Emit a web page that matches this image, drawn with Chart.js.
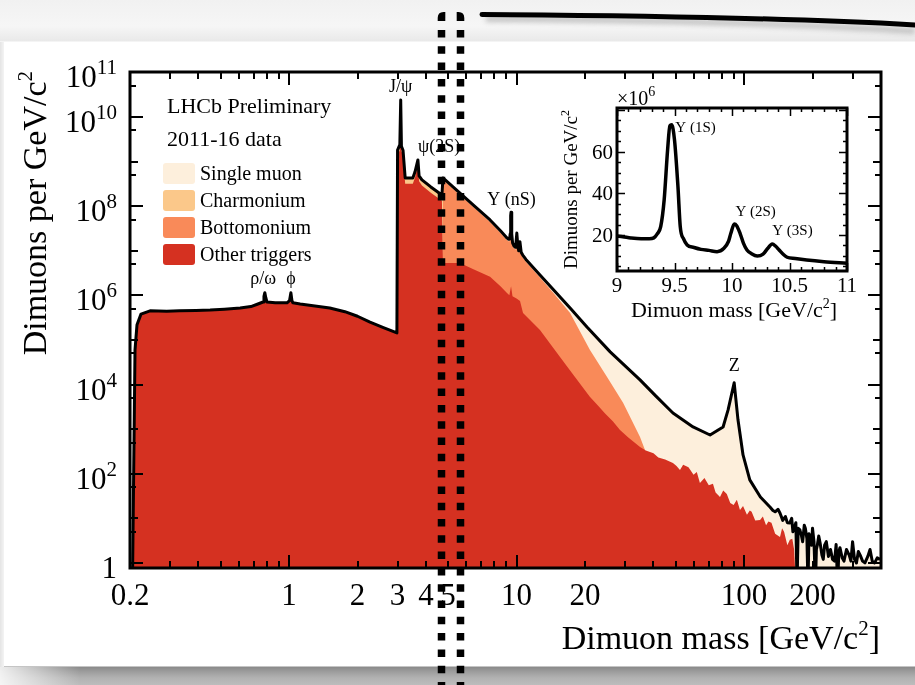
<!DOCTYPE html>
<html>
<head>
<meta charset="utf-8">
<title>LHCb dimuon mass spectrum</title>
<script src="https://cdn.jsdelivr.net/npm/chart.js@4.4.0/dist/chart.umd.min.js"></script>
<style>
    html {
        margin: 0; padding: 0; width: 915px; height: 685px; overflow: hidden;
        background: linear-gradient(to bottom,
            #f1f1f1 0px, #f6f6f6 26px, #e9e9e9 41px,
            #ffffff 42px, #ffffff 666px,
            #8a8a8a 667px, #9e9e9e 672px, #b2b2b2 678px, #bcbcbc 685px) no-repeat;
        background-size: 915px 685px;
    }
    body { margin: 0; padding: 0; width: 915px; height: 685px; position: relative; overflow: hidden; background: transparent; }
    #edge {
        position: absolute; left: 0; top: 42px; width: 4px; height: 625px;
        background: linear-gradient(to right, #e4e4e4, #f4f4f4);
    }
    #floorFade {
        position: absolute; left: 0; top: 667px; width: 80px; height: 18px;
        background: linear-gradient(to right, rgba(255,255,255,0.85), rgba(255,255,255,0));
    }
    canvas { position: absolute; }
    #main { left: 0; top: 0; }
    #inset { left: 540px; top: 80px; }
    #marks { position: absolute; left: 0; top: 0; }
</style>
</head>
<body>
<div id="edge"></div>
<div id="floorFade"></div>
<canvas id="main" width="915" height="685"></canvas>
<canvas id="inset" width="340" height="250"></canvas>
<svg id="marks" width="915" height="685" viewBox="0 0 915 685">
    <defs>
        <filter id="soft" x="-5%" y="-200%" width="110%" height="500%">
            <feGaussianBlur stdDeviation="2.5"/>
        </filter>
    </defs>
    <path d="M486 19 C 640 20, 800 24, 915 31" stroke="#888" stroke-width="6" fill="none" opacity="0.45" filter="url(#soft)"/>
    <path d="M482 14.5 C 640 15.5, 800 18.5, 915 25" stroke="#000" stroke-width="5" fill="none" stroke-linecap="round"/>
    <line x1="441.5" y1="30" x2="441.5" y2="700" stroke="#000" stroke-width="7.5" stroke-dasharray="7.5 8.8"/>
    <line x1="460.5" y1="30" x2="460.5" y2="700" stroke="#000" stroke-width="7.5" stroke-dasharray="7.5 8.8"/>
    <path d="M437.7 21 V18 Q437.7 12 443.5 12 H445.3 V21 Z" fill="#000"/>
    <path d="M464.3 21 V18 Q464.3 12 458.5 12 H456.7 V21 Z" fill="#000"/>
</svg>

<script>
// Dimuon mass spectrum, LHCb 2011-16
const FONT = "'Liberation Serif', 'Times New Roman', serif";

// total spectrum: black outline and top of the "Single muon" stack
const totalMass = [
    0.205, 0.2104, 0.2147, 0.2235, 0.245, 0.29, 0.33, 0.39, 0.45, 0.52,
    0.61, 0.68, 0.73, 0.769, 0.776, 0.783, 0.79, 0.80, 0.87, 0.98,
    1.005, 1.019, 1.03, 1.04, 1.12, 1.3, 1.51, 1.76, 2.0, 2.27,
    2.6, 2.98, 3.0, 3.07, 3.097, 3.12, 3.17, 3.24, 3.5, 3.58,
    3.686, 3.73, 3.84, 4.2, 4.70, 4.75, 5.5, 6.5, 7.65, 8.5,
    9.08, 9.21, 9.32, 9.38, 9.41, 9.44, 9.46, 9.50, 9.53, 9.55,
    9.61, 9.73, 9.87, 9.93, 10.03, 10.13, 10.22, 10.35, 10.48, 10.65,
    11.0, 12.68, 14.5, 17.2, 20.4, 25.8, 34.9, 41, 48.7, 59.7,
    70.9, 80.9, 85.1, 90.5, 94.1, 99, 106, 118, 130, 134,
    137, 141, 144, 148, 152, 155, 159, 162, 164, 167,
    169, 171, 173, 176, 179, 181, 184, 186, 189, 191,
    193, 195, 198, 200, 203, 206, 208, 210, 213, 216,
    220, 223, 226, 230, 235, 240, 245, 250, 254, 258,
    261, 264, 270, 275, 282, 290, 295, 300, 306, 312,
    318, 324, 332, 340, 350, 358, 366, 375, 385, 396
];
const totalCounts = [
    0.3, 6.0e4, 2.2e5, 3.8e5, 4.5e5, 4.4e5, 4.5e5, 4.6e5, 4.7e5, 4.9e5,
    5.2e5, 5.6e5, 6.4e5, 7.1e5, 9.5e5, 1.15e6, 9.0e5, 7.1e5, 6.8e5, 6.8e5,
    7.6e5, 1.15e6, 7.6e5, 6.8e5, 6.4e5, 5.8e5, 5.2e5, 4.3e5, 3.4e5, 2.5e5,
    1.9e5, 1.44e5, 1.8e9, 2.4e9, 2.4e10, 2.2e9, 1.8e9, 4.3e8, 4.3e8, 5.9e8,
    1.09e9, 4.8e8, 3.9e8, 2.7e8, 1.78e8, 4.3e8, 2.2e8, 1.03e8, 4.9e7, 2.8e7,
    1.94e7, 1.82e7, 1.82e7, 2.4e7, 3.7e7, 6.1e7, 7.3e7, 6.6e7, 4.3e7, 2.4e7,
    1.5e7, 1.3e7, 1.2e7, 1.36e7, 2.5e7, 1.3e7, 1.0e7, 1.6e7, 9.3e6, 8.0e6,
    6.4e6, 2.87e6, 1.35e6, 5.2e5, 1.95e5, 5.4e4, 1.27e4, 5.5e3, 2.3e3, 1.12e3,
    740, 1.12e3, 2.7e3, 1.1e4, 1.6e3, 264, 73, 30, 18, 15,
    14, 16, 13, 9, 11, 8, 7.9, 10, 5, 6.5,
    8, 0.3, 6, 5.5, 4, 3, 7, 6, 3.5, 0.3,
    4.5, 3.8, 2.5, 6, 3, 0.3, 2, 2.5, 4, 2.8,
    1.5, 1.2, 2.5, 3, 1.4, 2, 1.2, 1.1, 2.6, 0.3,
    1.8, 2.2, 1.3, 1.1, 2, 1.5, 1.1, 3, 1.2, 1.0,
    1.8, 1.5, 1.1, 1.0, 1.4, 2.0, 1.1, 1.0, 1.3, 1.2
];

// "Other triggers"
const otherMass = [
    0.205, 0.2104, 0.2147, 0.2235, 0.245, 0.29, 0.33, 0.39, 0.45, 0.52,
    0.61, 0.68, 0.73, 0.769, 0.776, 0.783, 0.79, 0.80, 0.87, 0.98,
    1.005, 1.019, 1.03, 1.04, 1.12, 1.3, 1.51, 1.76, 2.0, 2.27,
    2.6, 2.98, 3.0, 3.07, 3.097, 3.12, 3.17, 3.24, 3.5, 3.58,
    3.686, 3.73, 3.84, 4.2, 4.70, 4.75, 5.64, 6.5, 7.65, 8.5,
    9.08, 9.3, 9.46, 9.6, 10.0, 10.36, 10.68, 12.68, 15.5, 18,
    21, 23, 24.5, 26.5, 28.5, 31, 34.9, 37, 40, 42,
    45, 48.7, 50.5, 52.3, 54, 57, 60, 62, 64, 67,
    70, 73, 75, 78.4, 81, 84, 87, 90, 93, 96,
    99, 103, 106, 108, 112, 117.6, 121, 125, 128, 132,
    137, 143.9, 147, 150, 155, 159, 163, 166, 169.3
];
const otherCounts = [
    0.3, 6.0e4, 2.2e5, 3.8e5, 4.5e5, 4.4e5, 4.5e5, 4.6e5, 4.7e5, 4.9e5,
    5.2e5, 5.6e5, 6.4e5, 7.1e5, 9.5e5, 1.15e6, 9.0e5, 7.1e5, 6.8e5, 6.8e5,
    7.6e5, 1.15e6, 7.6e5, 6.8e5, 6.4e5, 5.8e5, 5.2e5, 4.3e5, 3.4e5, 2.5e5,
    1.9e5, 1.44e5, 1.4e9, 1.8e9, 1.8e10, 1.7e9, 1.4e9, 3.2e8, 3.2e8, 4.4e8,
    8.2e8, 3.6e8, 2.9e8, 2.0e8, 1.33e8, 5.3e6, 5.3e6, 3.8e6, 2.6e6, 1.6e6,
    1.13e6, 1.0e6, 1.6e6, 9.5e5, 8.5e5, 7.5e5, 4.0e5, 1.68e5, 4.2e4, 1.52e4,
    5.3e3, 3.2e3, 2.25e3, 1.5e3, 960, 650, 400, 330, 290, 230,
    210, 175, 150, 122, 160, 140, 95, 110, 62, 80,
    55, 60, 38, 30, 42, 35, 22, 20, 26, 15.4,
    19, 12, 15, 14, 9, 9.2, 11, 7, 8.5, 8,
    4.5, 3.8, 6, 5, 2.5, 3.3, 3.5, 2, 0.3
];

// cumulative "Bottomonium" (stack top)
const bottomMass = [
    4.75, 5.5, 6.5, 7.65, 8.5, 9.08, 9.21, 9.32, 9.38, 9.41,
    9.44, 9.46, 9.50, 9.53, 9.55, 9.61, 9.73, 9.87, 9.93, 10.03,
    10.13, 10.22, 10.35, 10.48, 10.65, 11.0, 12.68, 14.5, 17.2, 21.0,
    25.0, 29.4, 34.9, 36.7
];
const bottomCounts = [
    3.9e8, 2.0e8, 9.3e7, 4.4e7, 2.5e7, 1.75e7, 1.64e7, 1.64e7, 2.2e7, 3.3e7,
    5.5e7, 6.6e7, 5.9e7, 3.9e7, 2.2e7, 1.35e7, 1.17e7, 1.08e7, 1.22e7, 2.25e7,
    1.17e7, 9.0e6, 1.44e7, 8.4e6, 7.2e6, 5.7e6, 2.5e6, 1.15e6, 4.0e5, 6.0e4,
    1.48e4, 3.9e3, 670, 340
];

// cumulative "Charmonium" (stack top)
const charmMass = [2.98, 3.0, 3.07, 3.097, 3.12, 3.17, 3.24, 3.5, 3.58, 3.686, 3.73, 3.84, 4.2, 4.70, 4.75];
const charmCounts = [1.44e5, 1.8e9, 2.4e9, 2.4e10, 2.2e9, 1.8e9, 4.3e8, 4.3e8, 5.9e8, 1.09e9, 4.8e8, 3.9e8, 2.7e8, 1.78e8, 1.78e8];

const legendLabels = ['Single muon', 'Charmonium', 'Bottomonium', 'Other triggers'];
const legendColors = ['#fdefdc', '#fbc88a', '#f98a59', '#d53121'];

const xTickLabels = [0.2, 1, 2, 3, 4, 5, 10, 20, 100, 200];
const yTickPowers = [0, 2, 4, 6, 8, 10, 11];

// resonance labels: text, mass, counts at the label baseline
const peakText = ['ρ/ω', 'ϕ', 'J/ψ', 'ψ(2S)', 'Υ (nS)', 'Z'];
const peakMass = [0.77, 1.02, 3.097, 3.686, 9.5, 90.5];
const peakCounts = [1.8e6, 1.8e6, 3.6e10, 1.6e9, 1.05e8, 2.0e4];

// Upsilon inset (counts in units of 10^6)
const insetMass = [
    9.0, 9.05, 9.12, 9.21, 9.28, 9.32, 9.35, 9.38, 9.41, 9.44,
    9.46, 9.475, 9.50, 9.53, 9.55, 9.58, 9.61, 9.67, 9.73, 9.80,
    9.87, 9.93, 9.97, 9.99, 10.02, 10.04, 10.07, 10.10, 10.13, 10.17,
    10.22, 10.27, 10.31, 10.35, 10.38, 10.41, 10.45, 10.48, 10.55, 10.65,
    10.8, 11.0
];
const insetCounts = [
    19.5, 19.2, 18.6, 18.2, 18.2, 18.6, 20.5, 24, 36.8, 60.9,
    72.5, 72.9, 65.7, 43.2, 24, 18, 15.2, 14, 13.1, 12.6,
    12, 13.6, 17, 20.8, 25.3, 24.5, 20.8, 16, 12.8, 11,
    9.9, 10.8, 13.5, 15.7, 14.6, 12.8, 10.5, 9.3, 8.7, 8.0,
    7.2, 6.4
];
const insetXTicks = [9, 9.5, 10, 10.5, 11];
const insetYTicks = [20, 40, 60];
const insetPeakText = ['Υ (1S)', 'Υ (2S)', 'Υ (3S)'];
const insetPeakMass = [9.507, 10.03, 10.35];
const insetPeakCounts = [69.5, 29.1, 20];

function points(ms, vs) {
    return ms.map((m, i) => ({ x: m, y: vs[i] }));
}

function richText(ctx, segs, x, y, align) {
    let w = 0;
    segs.forEach(s => {
        ctx.font = `${s.size}px ${FONT}`;
        s.w = ctx.measureText(s.t).width;
        w += s.w;
    });
    let cx = align === 'right' ? x - w : align === 'center' ? x - w / 2 : x;
    ctx.textAlign = 'left';
    ctx.textBaseline = 'alphabetic';
    segs.forEach(s => {
        ctx.font = `${s.size}px ${FONT}`;
        ctx.fillText(s.t, cx, y - (s.rise || 0));
        cx += s.w;
    });
}

// ROOT-style frame: inward ticks on all four sides, labels, titles, legend
const mainFrame = {
    id: 'mainFrame',
    afterDraw(chart) {
        const { ctx, chartArea: a } = chart;
        const xs = chart.scales.x, ys = chart.scales.y;
        ctx.save();
        ctx.strokeStyle = '#000';
        ctx.fillStyle = '#000';
        ctx.lineWidth = 2;
        ctx.beginPath();
        for (let d = -1; d <= 2; d++) {
            for (let k = 1; k <= 9; k++) {
                const v = k * Math.pow(10, d);
                if (v < 0.199 || v > 400) continue;
                const px = Math.round(xs.getPixelForValue(v));
                const len = k === 1 ? 13 : 7;
                ctx.moveTo(px, a.bottom); ctx.lineTo(px, a.bottom - len);
                ctx.moveTo(px, a.top); ctx.lineTo(px, a.top + len);
            }
        }
        for (let p = 0; p <= 11; p++) {
            const py = Math.round(ys.getPixelForValue(Math.pow(10, p)));
            const len = p % 2 === 0 ? 13 : 8;
            ctx.moveTo(a.left, py); ctx.lineTo(a.left + len, py);
            ctx.moveTo(a.right, py); ctx.lineTo(a.right - len, py);
            if (p < 11) {
                const q = Math.round(ys.getPixelForValue(5 * Math.pow(10, p)));
                ctx.moveTo(a.left, q); ctx.lineTo(a.left + 6, q);
                ctx.moveTo(a.right, q); ctx.lineTo(a.right - 6, q);
            }
        }
        ctx.stroke();
        ctx.lineWidth = 3;
        ctx.strokeRect(a.left, a.top, a.right - a.left, a.bottom - a.top);

        // tick labels
        xTickLabels.forEach(v => {
            richText(ctx, [{ t: String(v), size: 31 }], xs.getPixelForValue(v), 605, 'center');
        });
        yTickPowers.forEach(p => {
            const py = ys.getPixelForValue(Math.pow(10, p));
            const segs = p === 0 ? [{ t: '1', size: 31 }]
                : [{ t: '10', size: 31 }, { t: String(p), size: 21, rise: 13 }];
            richText(ctx, segs, 117, py + 15, 'right');
        });

        // axis titles
        richText(ctx, [{ t: 'Dimuon mass [GeV/c', size: 34 }, { t: '2', size: 21, rise: 14 }, { t: ']', size: 34 }], 880, 649, 'right');
        ctx.save();
        ctx.translate(46, 71);
        ctx.rotate(-Math.PI / 2);
        richText(ctx, [{ t: 'Dimuons per GeV/c', size: 34 }, { t: '2', size: 21, rise: 14 }], 0, 0, 'right');
        ctx.restore();

        // caption and legend
        richText(ctx, [{ t: 'LHCb Preliminary', size: 22 }], 167, 113, 'left');
        richText(ctx, [{ t: '2011-16 data', size: 22 }], 167, 146, 'left');
        legendLabels.forEach((label, i) => {
            const top = 163 + i * 27;
            ctx.fillStyle = legendColors[i];
            ctx.beginPath();
            ctx.roundRect(163, top, 32, 21, 3);
            ctx.fill();
            ctx.fillStyle = '#000';
            richText(ctx, [{ t: label, size: 20 }], 200, top + 17, 'left');
        });

        // resonance labels
        peakText.forEach((t, i) => {
            const px = xs.getPixelForValue(peakMass[i]);
            const py = ys.getPixelForValue(peakCounts[i]);
            richText(ctx, [{ t, size: 18 }], px, py, t === 'ψ(2S)' ? 'left' : 'center');
        });
        ctx.restore();
    }
};

new Chart(document.getElementById('main'), {
    type: 'line',
    data: {
        datasets: [
            {
                label: 'Total',
                data: points(totalMass, totalCounts),
                borderColor: '#000',
                borderWidth: 3,
                borderJoinStyle: 'round',
                fill: false
            },
            {
                label: legendLabels[3],
                data: points(otherMass, otherCounts),
                borderWidth: 0,
                backgroundColor: legendColors[3],
                fill: 'start'
            },
            {
                label: legendLabels[2],
                data: points(bottomMass, bottomCounts),
                borderWidth: 0,
                backgroundColor: legendColors[2],
                fill: 'start'
            },
            {
                label: legendLabels[1],
                data: points(charmMass, charmCounts),
                borderWidth: 0,
                backgroundColor: legendColors[1],
                fill: 'start'
            },
            {
                label: legendLabels[0],
                data: points(totalMass, totalCounts),
                borderWidth: 0,
                backgroundColor: legendColors[0],
                fill: 'start'
            }
        ]
    },
    options: {
        responsive: false,
        animation: false,
        events: [],
        layout: { padding: { left: 130, right: 34, top: 72, bottom: 117 } },
        elements: {
            point: { radius: 0 },
            line: { tension: 0 }
        },
        plugins: {
            legend: { display: false },
            tooltip: { enabled: false }
        },
        scales: {
            x: { type: 'logarithmic', min: 0.2, max: 400, display: false },
            y: { type: 'logarithmic', min: 0.77, max: 1.02e11, display: false }
        }
    },
    plugins: [mainFrame]
});

const insetFrame = {
    id: 'insetFrame',
    afterDraw(chart) {
        const { ctx, chartArea: a } = chart;
        const xs = chart.scales.x, ys = chart.scales.y;
        ctx.save();
        ctx.strokeStyle = '#000';
        ctx.fillStyle = '#000';
        ctx.lineWidth = 1.5;
        ctx.beginPath();
        for (let k = 0; k <= 20; k++) {
            const px = Math.round(xs.getPixelForValue(9 + k / 10)) + 0.5;
            const len = k % 5 === 0 ? 8 : 4;
            ctx.moveTo(px, a.bottom); ctx.lineTo(px, a.bottom - len);
            ctx.moveTo(px, a.top); ctx.lineTo(px, a.top + len);
        }
        for (let v = 5; v <= 80; v += 5) {
            const py = Math.round(ys.getPixelForValue(v)) + 0.5;
            const len = v % 20 === 0 ? 8 : 4;
            ctx.moveTo(a.left, py); ctx.lineTo(a.left + len, py);
            ctx.moveTo(a.right, py); ctx.lineTo(a.right - len, py);
        }
        ctx.stroke();
        ctx.lineWidth = 3;
        ctx.strokeRect(a.left, a.top, a.right - a.left, a.bottom - a.top);

        insetXTicks.forEach(v => {
            richText(ctx, [{ t: String(v), size: 21 }], xs.getPixelForValue(v), a.bottom + 21, 'center');
        });
        insetYTicks.forEach(v => {
            richText(ctx, [{ t: String(v), size: 21 }], a.left - 4, ys.getPixelForValue(v) + 7, 'right');
        });
        richText(ctx, [{ t: '×10', size: 20 }, { t: '6', size: 14, rise: 9 }], a.left, a.top - 3, 'left');
        richText(ctx, [{ t: 'Dimuon mass [GeV/c', size: 22 }, { t: '2', size: 14, rise: 9 }, { t: ']', size: 22 }],
            (a.left + a.right) / 2 + 2, a.bottom + 46, 'center');
        ctx.save();
        ctx.translate(a.left - 40, a.top + 2);
        ctx.rotate(-Math.PI / 2);
        richText(ctx, [{ t: 'Dimuons per GeV/c', size: 19 }, { t: '2', size: 12, rise: 8 }], 0, 0, 'right');
        ctx.restore();

        insetPeakText.forEach((t, i) => {
            richText(ctx, [{ t, size: 15 }], xs.getPixelForValue(insetPeakMass[i]), ys.getPixelForValue(insetPeakCounts[i]), 'left');
        });
        ctx.restore();
    }
};

new Chart(document.getElementById('inset'), {
    type: 'line',
    data: {
        datasets: [{
            data: points(insetMass, insetCounts),
            borderColor: '#000',
            borderWidth: 3.5,
            cubicInterpolationMode: 'monotone',
            fill: false
        }]
    },
    options: {
        responsive: false,
        animation: false,
        events: [],
        layout: { padding: { left: 77, right: 33, top: 28, bottom: 59 } },
        elements: { point: { radius: 0 } },
        plugins: {
            legend: { display: false },
            tooltip: { enabled: false }
        },
        scales: {
            x: { type: 'linear', min: 9, max: 11, display: false },
            y: { type: 'linear', min: 2.7, max: 81, display: false }
        }
    },
    plugins: [insetFrame]
});
</script>
</body>
</html>
